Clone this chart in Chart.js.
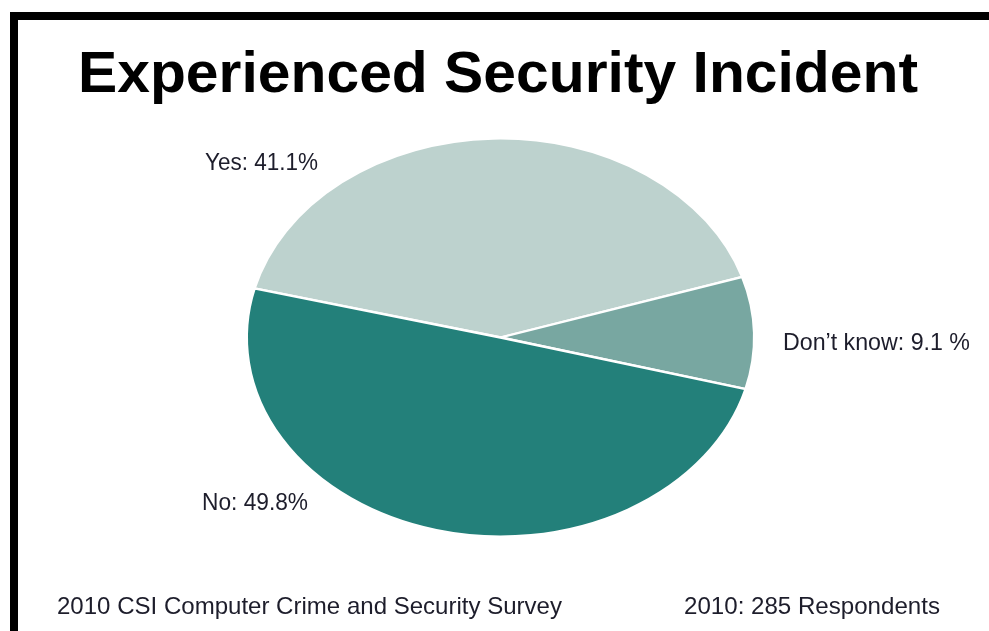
<!DOCTYPE html>
<html>
<head>
<meta charset="utf-8">
<title>Experienced Security Incident</title>
<script src="https://cdn.jsdelivr.net/npm/chart.js@4.4.1/dist/chart.umd.min.js"></script>
<style>
  html, body { margin: 0; padding: 0; background: #fff; }
  canvas { display: block; }
</style>
</head>
<body>
<canvas id="incidentChart" width="989" height="631"></canvas>
<script>
// ---- Data ----
const categories = ['Yes', 'Don\u2019t know', 'No'];
const shares = [41.1, 9.1, 49.8];
const sliceLabels = ['Yes: 41.1%', 'Don\u2019t know: 9.1 %', 'No: 49.8%'];
const sliceColors = ['#bdd2ce', '#78a7a1', '#23807a'];

const chartTitle = 'Experienced Security Incident';
const sourceNote = '2010 CSI Computer Crime and Security Survey';
const respondentsNote = '2010: 285 Respondents';

// vertical squash so the pie comes out as an ellipse
const ELLIPSE_RATIO = 0.784;

const ellipsePlugin = {
    id: 'ellipse',
    beforeDatasetsDraw(chart) {
        const { ctx, chartArea } = chart;
        const cx = (chartArea.left + chartArea.right) / 2;
        const cy = (chartArea.top + chartArea.bottom) / 2;
        ctx.save();
        ctx.translate(cx, cy);
        ctx.scale(1, ELLIPSE_RATIO);
        ctx.translate(-cx, -cy);
    },
    afterDatasetsDraw(chart) {
        chart.ctx.restore();
    }
};

// frame, title, slice labels and footer notes
const decorPlugin = {
    id: 'decor',
    afterDraw(chart) {
        const ctx = chart.ctx;
        ctx.save();

        ctx.fillStyle = '#000';
        ctx.fillRect(10, 12, 979, 8);
        ctx.fillRect(10, 12, 8, 619);

        // squeeze text horizontally to a given width (condensed look)
        const drawFit = (text, x, y, w) => {
            const m = ctx.measureText(text).width;
            ctx.save();
            ctx.translate(x, y);
            ctx.scale(w / m, 1);
            ctx.fillText(text, 0, 0);
            ctx.restore();
        };

        ctx.textBaseline = 'alphabetic';
        ctx.textAlign = 'left';
        ctx.font = 'bold 58px "Liberation Sans", Arial, sans-serif';
        drawFit(chartTitle, 78, 92, 840);

        ctx.fillStyle = '#1d1d2b';
        ctx.font = '24px "Liberation Sans", Arial, sans-serif';
        drawFit(sliceLabels[0], 205, 170, 113);
        drawFit(sliceLabels[1], 783, 350, 187);
        drawFit(sliceLabels[2], 202, 510, 106);
        drawFit(sourceNote, 57, 614, 505);
        drawFit(respondentsNote, 684, 614, 256);

        ctx.restore();
    }
};

const ctx = document.getElementById('incidentChart').getContext('2d');
new Chart(ctx, {
    type: 'pie',
    data: {
        labels: categories,
        datasets: [{
            data: shares,
            backgroundColor: sliceColors,
            borderColor: '#ffffff',
            borderWidth: 3
        }]
    },
    options: {
        responsive: false,
        animation: false,
        rotation: 284.3,
        layout: {
            padding: { left: 245, right: 233, top: 82, bottom: 38 }
        },
        plugins: {
            legend: { display: false },
            title: { display: false },
            tooltip: { enabled: false }
        }
    },
    plugins: [ellipsePlugin, decorPlugin]
});
</script>
</body>
</html>
